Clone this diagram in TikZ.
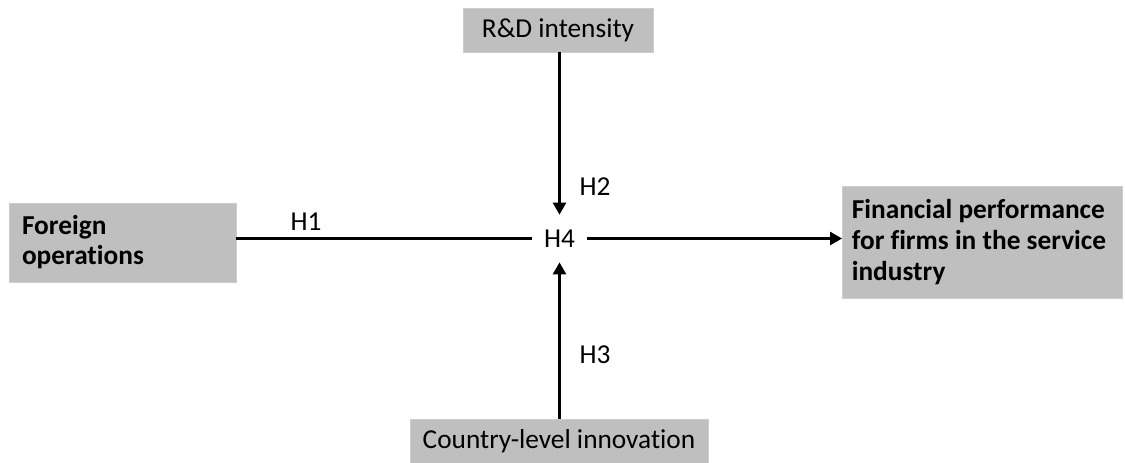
\documentclass[tikz,border=0pt]{standalone}
\usepackage{fontspec}
\setmainfont{Carlito}[Ligatures=NoCommon]
\usetikzlibrary{arrows.meta}
\definecolor{boxgray}{RGB}{191,191,191}
\tikzset{
  box/.style={fill=boxgray, draw=boxgray!80!white, line width=0.5pt, inner sep=0pt, font=\fontsize{20.5}{24}\selectfont},
  bbox/.style={box, align=flush left},
  conn/.style={line width=2.7pt, draw=black},
  arr/.style={conn, -{Triangle[length=9pt,width=9.5pt]}},
  lab/.style={font=\fontsize{20.5}{24}\selectfont, inner sep=0pt}
}
\begin{document}
\begin{tikzpicture}[x=0.75pt,y=-0.75pt]
\useasboundingbox (0,0) rectangle (1125,462);
\node[box, minimum width=142.5pt, minimum height=33pt] (rd) at (558,30) {R\&D intensity};
\node[bbox, minimum width=170.25pt, minimum height=59.25pt, text width=150.75pt, font=\fontsize{20.5}{22.5}\selectfont\bfseries] (fo) at (122.5,242.5) {Foreign\\operations};
\node[bbox, minimum width=210pt, minimum height=84pt, text width=196pt, font=\fontsize{20.5}{23.25}\selectfont\bfseries] (fp) at (982.5,242.5) {Financial performance\\for firms in the service\\industry};
\node[box, minimum width=223.5pt, minimum height=33pt] (ci) at (559,441) {Country-level innovation};
\node[lab, minimum width=41.25pt, minimum height=35.25pt] (h4) at (559.5,238.5) {H4};
\draw[conn] (fo.east |- h4.west) -- (h4.west);
\draw[arr] (h4.east) -- (fp.west |- h4.east);
\draw[arr] (rd.south -| h4.north) -- (h4.north);
\draw[arr] (ci.north -| h4.south) -- (h4.south);
\node[lab] (h1) at (306,222) {H1};
\node[lab] (h2) at (595,187) {H2};
\node[lab] (h3) at (595,355) {H3};
\end{tikzpicture}
\end{document}
